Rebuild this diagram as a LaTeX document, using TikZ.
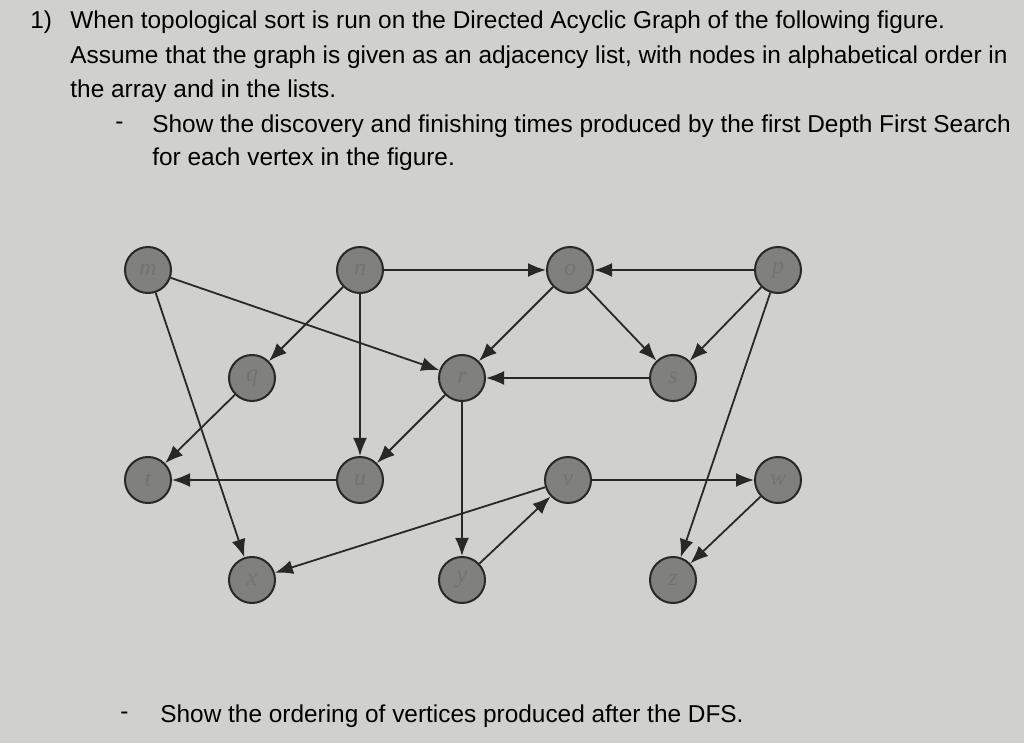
\documentclass[tikz,border=0pt]{standalone}
\usepackage{fontspec}
\setmainfont{Liberation Sans}
\newfontfamily\lblfont{Liberation Serif}
\usetikzlibrary{arrows.meta}
\definecolor{bg}{RGB}{208,208,206}
\definecolor{nodefill}{RGB}{128,128,126}
\definecolor{edgec}{RGB}{40,40,40}
\begin{document}
\begin{tikzpicture}[x=0.5pt,y=-0.5pt,
  vert/.style={circle,draw=edgec,line width=1pt,fill=nodefill,minimum size=23pt,inner sep=0pt,font=\lblfont\itshape\large,text=black!55},
  txt/.style={anchor=west,font=\fontsize{12.2}{14}\selectfont,inner sep=0pt},
  edge/.style={-{Latex[length=9pt,width=7pt]},line width=0.9pt,draw=edgec}]
\fill[bg] (0,0) rectangle (1024,743);
\useasboundingbox (0,0) rectangle (1024,743);
\node[txt] (l0) at (30,22) {1)};
\node[txt] (l1) at (70,22) {When topological sort is run on the Directed Acyclic Graph of the following figure.};
\node[txt] (l2) at (70,57) {Assume that the graph is given as an adjacency list, with nodes in alphabetical order in};
\node[txt] (l3) at (70,91) {the array and in the lists.};
\node[txt] (d1) at (115,126) {-};
\node[txt] (l4) at (152,126) {Show the discovery and finishing times produced by the first Depth First Search};
\node[txt] (l5) at (152,159) {for each vertex in the figure.};
\node[txt] (d2) at (120,716) {-};
\node[txt] (l6) at (160,716) {Show the ordering of vertices produced after the DFS.};
\node[vert] (m) at (148,270) {m};
\node[vert] (n) at (360,270) {n};
\node[vert] (o) at (570,270) {o};
\node[vert] (p) at (778,270) {p};
\node[vert] (q) at (252,378) {q};
\node[vert] (r) at (462,378) {r};
\node[vert] (s) at (673,378) {s};
\node[vert] (t) at (148,480) {t};
\node[vert] (u) at (360,480) {u};
\node[vert] (v) at (568,480) {v};
\node[vert] (w) at (778,480) {w};
\node[vert] (x) at (252,580) {x};
\node[vert] (y) at (462,580) {y};
\node[vert] (z) at (673,580) {z};
\foreach \a/\b in {m/r,m/x,n/o,n/q,n/u,o/r,o/s,p/o,p/s,p/z,q/t,r/u,r/y,s/r,u/t,v/w,v/x,w/z,y/v}
  \draw[edge] (\a) -- (\b);
\end{tikzpicture}
\end{document}
